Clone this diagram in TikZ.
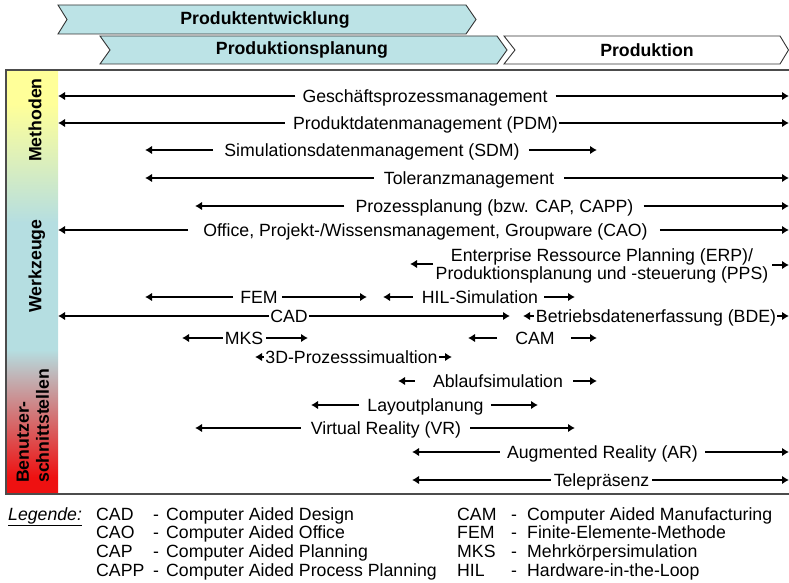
\documentclass[tikz,border=0pt]{standalone}
\usepackage{fontspec}
\setmainfont{Liberation Sans}
\usetikzlibrary{arrows.meta}
\definecolor{chev}{HTML}{BCE3E6}
\definecolor{sbyellow}{HTML}{FFFF99}
\definecolor{sbblue}{HTML}{B5DEE1}
\definecolor{sbred}{HTML}{EE1111}
\pgfdeclareverticalshading{sidebarshade}{100bp}{color(0bp)=(sbred); color(25bp)=(sbred); color(27bp)=(sbred); color(42bp)=(sbblue); color(57bp)=(sbblue); color(71bp)=(sbyellow); color(100bp)=(sbyellow)}
\tikzset{
  x=1pt, y=-1pt,
  arr/.style={line width=1.6pt, -{Latex[length=7pt,width=8.5pt]}},
  lbl/.style={font=\fontsize{17.7}{20}\selectfont, inner sep=0pt, text height=16.7pt, text depth=4pt},
  hdr/.style={font=\fontsize{17.7}{20}\selectfont\bfseries, inner sep=0pt},
  side/.style={font=\fontsize{17.7}{20}\selectfont\bfseries, inner sep=0pt, text height=16.7pt, text depth=4pt, rotate=90},
  leg/.style={font=\fontsize{17.7}{20}\selectfont, inner sep=0pt, anchor=base west},
  chevline/.style={draw=black!80, line width=0.9pt},
  boxline/.style={draw=black!70, line width=1.3pt}
}
\begin{document}
\begin{tikzpicture}
\useasboundingbox (0,0) rectangle (789,583);
% header chevrons
\draw[chevline, fill=chev] (58,5) -- (466,5) -- (476,19.5) -- (466,34) -- (58,34) -- (67,19.5) -- cycle;
\node[hdr] (hPE) at (265,19.5) {Produktentwicklung};
\draw[chevline, fill=chev] (100,36) -- (497,36) -- (507,50) -- (497,64) -- (100,64) -- (110,50) -- cycle;
\node[hdr] (hPP) at (302,50) {Produktionsplanung};
\draw[chevline, fill=white] (504,36) -- (780,36) -- (788.5,50) -- (780,64) -- (504,64) -- (515,50) -- cycle;
\node[hdr] (hP) at (647,50) {Produktion};
% sidebar and frame
\shade[shading=sidebarshade] (6,70) rectangle (58,494);
\draw[boxline] (792,70) -- (6,70) -- (6,494) -- (792,494);
\node[side] (sM) at (35,120) {Methoden};
\node[side] (sW) at (35,266) {Werkzeuge};
\node[side, anchor=west] (sB1) at (22.5,483) {Benutzer-};
\node[side, anchor=west] (sB2) at (42.5,483) {schnittstellen};
% row 1
\node[lbl] (r1) at (425,96) {Geschäftsprozessmanagement};
\coordinate (r1L) at (58,96); \coordinate (r1R) at (789,96);
\draw[arr] ([xshift=-7]r1.west) -- (r1L);
\draw[arr] ([xshift=8]r1.east) -- (r1R);
% row 2
\node[lbl] (r2) at (425.5,123) {Produktdatenmanagement (PDM)};
\coordinate (r2L) at (58,123); \coordinate (r2R) at (789,123);
\draw[arr] ([xshift=-8]r2.west) -- (r2L);
\draw[arr] ([xshift=1]r2.east) -- (r2R);
% row 3
\node[lbl] (r3) at (372,150) {Simulationsdatenmanagement (SDM)};
\coordinate (r3L) at (145,150); \coordinate (r3R) at (597,150);
\draw[arr] ([xshift=-11]r3.west) -- (r3L);
\draw[arr] ([xshift=9]r3.east) -- (r3R);
% row 4
\node[lbl] (r4) at (469,178) {Toleranzmanagement};
\coordinate (r4L) at (145,178); \coordinate (r4R) at (789,178);
\draw[arr] ([xshift=-10]r4.west) -- (r4L);
\draw[arr] ([xshift=10]r4.east) -- (r4R);
% row 5
\node[lbl] (r5) at (494.5,206) {Prozessplanung (bzw. CAP, CAPP)};
\coordinate (r5L) at (195,206); \coordinate (r5R) at (789,206);
\draw[arr] ([xshift=-11]r5.west) -- (r5L);
\draw[arr] ([xshift=10]r5.east) -- (r5R);
% row 6
\node[lbl] (r6) at (425.5,230) {Office, Projekt-/Wissensmanagement, Groupware (CAO)};
\coordinate (r6L) at (58,230); \coordinate (r6R) at (789,230);
\draw[arr] ([xshift=-15]r6.west) -- (r6L);
\draw[arr] ([xshift=12]r6.east) -- (r6R);
% row 7 (ERP/PPS)
\node[lbl] (e1) at (602,255) {Enterprise Ressource Planning (ERP)/};
\node[lbl] (e2) at (602,273) {Produktionsplanung und -steuerung (PPS)};
\coordinate (e2L) at (410,264); \coordinate (e2R) at (789,265);
\coordinate (e2Ls) at (433,264); \coordinate (e2Rs) at (772,265);
\draw[arr] (e2Ls) -- (e2L);
\draw[arr] (e2Rs) -- (e2R);
% row 8
\node[lbl] (fem) at (259,297) {FEM};
\coordinate (femL) at (145,297); \coordinate (femR) at (367,297);
\draw[arr] ([xshift=-7]fem.west) -- (femL);
\draw[arr] ([xshift=4]fem.east) -- (femR);
\node[lbl] (hil) at (480,297) {HIL-Simulation};
\coordinate (hilL) at (383,297); \coordinate (hilR) at (575,297);
\draw[arr] ([xshift=-9]hil.west) -- (hilL);
\draw[arr] ([xshift=6]hil.east) -- (hilR);
% row 9
\node[lbl] (cad) at (289,316) {CAD};
\coordinate (cadL) at (58,316); \coordinate (cadR) at (510,316);
\draw[arr] ([xshift=-1]cad.west) -- (cadL);
\draw[arr] ([xshift=1]cad.east) -- (cadR);
\node[lbl] (bde) at (656,316) {Betriebsdatenerfassung (BDE)};
\coordinate (bdeL) at (523,316); \coordinate (bdeR) at (789,316);
\draw[arr] ([xshift=-2]bde.west) -- (bdeL);
\draw[arr] ([xshift=1]bde.east) -- (bdeR);
% row 10
\node[lbl] (mks) at (244,338) {MKS};
\coordinate (mksL) at (182,338); \coordinate (mksR) at (308,338);
\draw[arr] ([xshift=-2]mks.west) -- (mksL);
\draw[arr] ([xshift=3]mks.east) -- (mksR);
\node[lbl] (cam) at (535,338) {CAM};
\coordinate (camL) at (468,338); \coordinate (camR) at (597,338);
\draw[arr] ([xshift=-18]cam.west) -- (camL);
\draw[arr] ([xshift=16]cam.east) -- (camR);
% row 11
\node[lbl] (p3d) at (351.5,357) {3D-Prozesssimualtion};
\coordinate (p3dL) at (255,357); \coordinate (p3dR) at (452,357);
\draw[arr] ([xshift=-1]p3d.west) -- (p3dL);
\draw[arr] ([xshift=1]p3d.east) -- (p3dR);
% row 12
\node[lbl] (abl) at (498,381) {Ablaufsimulation};
\coordinate (ablL) at (398,381); \coordinate (ablR) at (597,381);
\draw[arr] ([xshift=-18]abl.west) -- (ablL);
\draw[arr] ([xshift=10]abl.east) -- (ablR);
% row 13
\node[lbl] (lay) at (425.5,405) {Layoutplanung};
\coordinate (layL) at (311,405); \coordinate (layR) at (538,405);
\draw[arr] ([xshift=-8]lay.west) -- (layL);
\draw[arr] ([xshift=7]lay.east) -- (layR);
% row 14
\node[lbl] (vr) at (386,428) {Virtual Reality (VR)};
\coordinate (vrL) at (195,428); \coordinate (vrR) at (575,428);
\draw[arr] ([xshift=-10]vr.west) -- (vrL);
\draw[arr] ([xshift=9]vr.east) -- (vrR);
% row 15
\node[lbl] (ar) at (602.5,452) {Augmented Reality (AR)};
\coordinate (arL) at (412,452); \coordinate (arR) at (789,452);
\draw[arr] ([xshift=-7]ar.west) -- (arL);
\draw[arr] ([xshift=7]ar.east) -- (arR);
% row 16
\node[lbl] (tp) at (601.5,480) {Telepräsenz};
\coordinate (tpL) at (412,480); \coordinate (tpR) at (789,480);
\draw[arr] ([xshift=-3]tp.west) -- (tpL);
\draw[arr] ([xshift=3]tp.east) -- (tpR);
% legend
\node[leg] (lgd) at (8,520) {\underline{\textit{Legende:}}};
\node[leg] (a1) at (96,520) {CAD};   \node[leg] (d1) at (153,520) {-}; \node[leg] (t1) at (166,520) {Computer Aided Design};
\node[leg] (a2) at (96,538.7) {CAO}; \node[leg] (d2) at (153,538.7) {-}; \node[leg] (t2) at (166,538.7) {Computer Aided Office};
\node[leg] (a3) at (96,557.3) {CAP}; \node[leg] (d3) at (153,557.3) {-}; \node[leg] (t3) at (166,557.3) {Computer Aided Planning};
\node[leg] (a4) at (96,576) {CAPP};  \node[leg] (d4) at (153,576) {-}; \node[leg] (t4) at (166,576) {Computer Aided Process Planning};
\node[leg] (b1) at (457,520) {CAM};   \node[leg] (c1) at (511,520) {-}; \node[leg] (u1) at (527,520) {Computer Aided Manufacturing};
\node[leg] (b2) at (457,538.7) {FEM}; \node[leg] (c2) at (511,538.7) {-}; \node[leg] (u2) at (527,538.7) {Finite-Elemente-Methode};
\node[leg] (b3) at (457,557.3) {MKS}; \node[leg] (c3) at (511,557.3) {-}; \node[leg] (u3) at (527,557.3) {Mehrkörpersimulation};
\node[leg] (b4) at (457,576) {HIL};   \node[leg] (c4) at (511,576) {-}; \node[leg] (u4) at (527,576) {Hardware-in-the-Loop};
\end{tikzpicture}
\end{document}
